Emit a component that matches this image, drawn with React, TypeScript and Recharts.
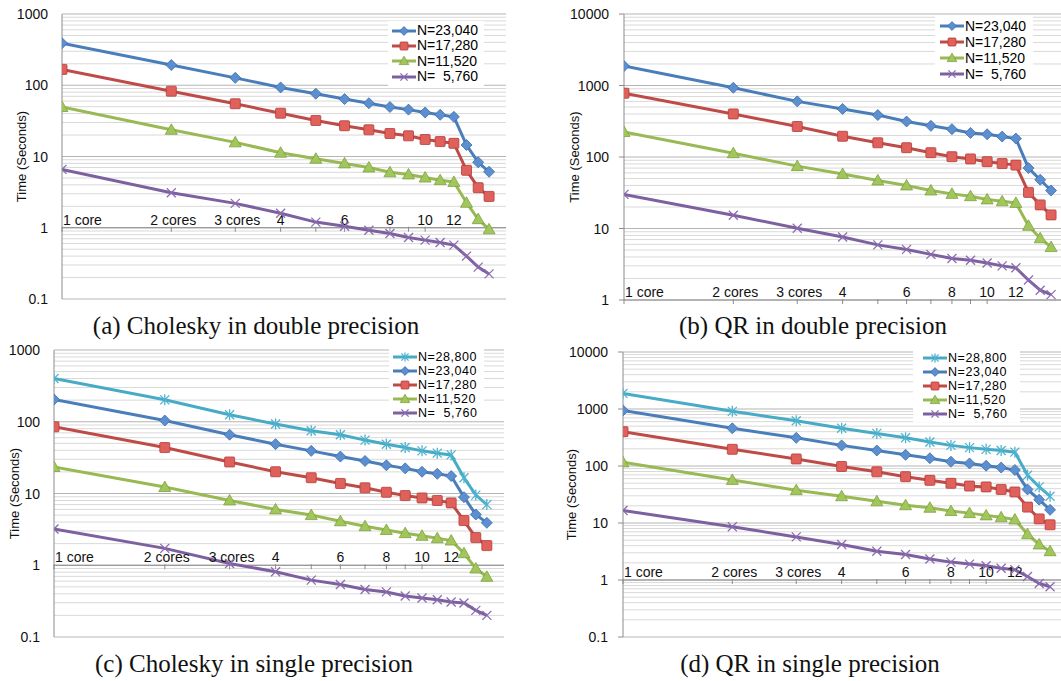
import React from "react";
import {
  CartesianGrid,
  Legend,
  Line,
  LineChart,
  ReferenceDot,
  ReferenceLine,
  XAxis,
  YAxis,
} from "recharts";

const cores = [1, 2, 3, 4, 5, 6, 7, 8, 9, 10, 11, 12, 13, 14, 15];

// tick marks sit on the 1-second line; the core labels are placed over it
const coreTicks = [1, 2, 3, 4, 5, 6, 7, 8, 9, 10];
const coreLabelAt = [1, 2, 3, 4, 6, 8, 10, 12];
const coreLabelText = ["1 core", "2 cores", "3 cores", "4", "6", "8", "10", "12"];

// (a) Cholesky, double precision
const cholD23040 = [390, 192, 127, 93, 76, 64, 56, 49.5, 45.5, 41.5, 38.5, 36, 14.5, 8.3, 6.1];
const cholD17280 = [167, 82.5, 55, 40.5, 32, 27, 23.7, 21, 19.5, 17.3, 16.2, 15.3, 6.4, 3.65, 2.75];
const cholD11520 = [49.5, 23.7, 15.8, 11.3, 9.3, 8.0, 7.0, 6.0, 5.6, 5.07, 4.65, 4.4, 2.24, 1.32, 0.95];
const cholD5760 = [6.6, 3.1, 2.2, 1.6, 1.2, 1.05, 0.92, 0.83, 0.73, 0.67, 0.62, 0.57, 0.4, 0.28, 0.225];

// (b) QR, double precision
const qrD23040 = [1870, 930, 600, 470, 386, 314, 273, 245, 217, 208, 193, 181, 70, 48, 34];
const qrD17280 = [780, 400, 267, 195, 158, 135, 115, 101, 94, 86, 81, 77, 32, 21.4, 15.5];
const qrD11520 = [224, 113, 74.5, 58, 47, 40, 34, 30.5, 28.3, 25.5, 24, 22.8, 10.9, 7.3, 5.5];
const qrD5760 = [30, 15.3, 10.1, 7.6, 5.9, 5.1, 4.35, 3.8, 3.6, 3.3, 3.0, 2.82, 1.9, 1.37, 1.19];

// (c) Cholesky, single precision
const cholS28800 = [400, 202, 125, 93, 75, 66, 55.5, 48.7, 43.7, 39.3, 36.5, 34.5, 16.6, 9.5, 7.0];
const cholS23040 = [204, 104, 66, 48.7, 39.3, 32.7, 28.4, 24.7, 22.4, 20.1, 18.8, 17.5, 8.9, 5.1, 3.9];
const cholS17280 = [85, 43.7, 27.5, 20.1, 16.6, 13.8, 12, 10.4, 9.35, 8.67, 8.0, 7.4, 4.2, 2.43, 1.88];
const cholS11520 = [23.4, 12.3, 8.0, 6.0, 5.0, 4.1, 3.5, 3.1, 2.8, 2.57, 2.38, 2.21, 1.47, 0.9, 0.69];
const cholS5760 = [3.2, 1.72, 1.06, 0.81, 0.62, 0.54, 0.46, 0.425, 0.373, 0.35, 0.331, 0.307, 0.297, 0.235, 0.2];

// (d) QR, single precision
const qrS28800 = [1880, 910, 620, 458, 373, 312, 264, 230, 210, 196, 187, 175, 69, 43, 29.5];
const qrS23040 = [945, 458, 312, 230, 187, 157, 137, 119, 111, 101, 94, 85, 38.8, 25.7, 17];
const qrS17280 = [400, 196, 133, 98, 79, 65, 56, 49.7, 44.5, 43, 38.8, 35, 19, 11.8, 9.3];
const qrS11520 = [116, 57, 37.7, 29.5, 24, 20.5, 18.5, 16.2, 14.9, 13.6, 12.6, 11.5, 6.35, 4.2, 3.2];
const qrS5760 = [16.6, 8.6, 5.7, 4.2, 3.2, 2.8, 2.34, 2.06, 1.9, 1.78, 1.61, 1.51, 1.15, 0.87, 0.76];

const SANS = '"Liberation Sans", Arial, Helvetica, sans-serif';
const SERIF = '"Liberation Serif", "Times New Roman", serif';

type MarkerKind = "star" | "diamond" | "square" | "triangle" | "cross";

const sizeStyle: Record<string, { label: string; color: string; marker: MarkerKind }> = {
  n28800: { label: "N=28,800", color: "#47abc6", marker: "star" },
  n23040: { label: "N=23,040", color: "#4a7ebb", marker: "diamond" },
  n17280: { label: "N=17,280", color: "#be4b48", marker: "square" },
  n11520: { label: "N=11,520", color: "#98b954", marker: "triangle" },
  n5760: { label: "N=  5,760", color: "#7d60a0", marker: "cross" },
};

function Marker({ kind, cx, cy, k = 1 }: { kind: MarkerKind; cx?: number; cy?: number; k?: number }) {
  if (cx == null || cy == null || isNaN(cx) || isNaN(cy)) return null;
  if (kind === "diamond") {
    const r = 5.5 * k;
    return (
      <polygon
        points={`${cx},${cy - r} ${cx + r},${cy} ${cx},${cy + r} ${cx - r},${cy}`}
        fill="#5b8fd0"
        stroke="#3d6ca8"
        strokeWidth={0.8}
      />
    );
  }
  if (kind === "square") {
    const r = 5 * k;
    return (
      <rect x={cx - r} y={cy - r} width={2 * r} height={2 * r} rx={1}
        fill="#e0605b" stroke="#b23d39" strokeWidth={0.8} />
    );
  }
  if (kind === "triangle") {
    const r = 6 * k;
    return (
      <polygon
        points={`${cx},${cy - r} ${cx + r},${cy + 0.75 * r} ${cx - r},${cy + 0.75 * r}`}
        fill="#a0c65c"
        stroke="#7fa23f"
        strokeWidth={0.8}
      />
    );
  }
  const r = 4.5 * k;
  const color = kind === "star" ? "#4fb3cf" : "#8a6cb0";
  return (
    <g stroke={color} strokeWidth={1.3}>
      <line x1={cx - r} y1={cy - r} x2={cx + r} y2={cy + r} />
      <line x1={cx - r} y1={cy + r} x2={cx + r} y2={cy - r} />
      {kind === "star" && <line x1={cx} y1={cy - r - 1} x2={cx} y2={cy + r + 1} />}
    </g>
  );
}

type LegendCfg = {
  left: number; top: number; rowH: number; padL: number; padR: number; padV: number;
  font: number; spacing: number;
};

function LegendBox({ keys, cfg }: { keys: string[]; cfg: LegendCfg }) {
  return (
    <div style={{
      background: "#fff", padding: `${cfg.padV}px ${cfg.padR}px ${cfg.padV}px ${cfg.padL}px`,
      fontFamily: SANS, fontSize: cfg.font, letterSpacing: cfg.spacing, color: "#000",
    }}>
      {keys.map((key) => {
        const s = sizeStyle[key];
        return (
          <div key={key} style={{ display: "flex", alignItems: "center", height: cfg.rowH, whiteSpace: "pre" }}>
            <svg width={24} height={12} style={{ display: "block", marginRight: 1 }}>
              <line x1={0} x2={24} y1={6} y2={6} stroke={s.color} strokeWidth={3} />
              <Marker kind={s.marker} cx={12} cy={6} k={0.8} />
            </svg>
            <span style={{ lineHeight: `${cfg.rowH}px` }}>{s.label}</span>
          </div>
        );
      })}
    </div>
  );
}

type Panel = {
  id: string;
  caption: string;
  left: number;
  top: number;
  width: number;
  height: number;
  axisW: number;
  yDomain: [number, number];
  yTicks: number[];
  tickSize: number;
  tickGap: number;
  titleX: number;
  legend: LegendCfg;
  captionX: number;
  captionY: number;
  series: Record<string, number[]>;
};

const panels: Panel[] = [
  {
    id: "a",
    caption: "(a) Cholesky in double precision",
    left: 0, top: 4, width: 506, height: 305, axisW: 62,
    yDomain: [0.1, 1000], yTicks: [0.1, 1, 10, 100, 1000],
    tickSize: 0, tickGap: 14, titleX: 21,
    legend: { left: 388, top: 17, rowH: 15.4, padL: 4, padR: 6, padV: 2, font: 14, spacing: 0 },
    captionX: 256, captionY: 335,
    series: { n23040: cholD23040, n17280: cholD17280, n11520: cholD11520, n5760: cholD5760 },
  },
  {
    id: "b",
    caption: "(b) QR in double precision",
    left: 562, top: 4, width: 506, height: 306, axisW: 62,
    yDomain: [1, 10000], yTicks: [1, 10, 100, 1000, 10000],
    tickSize: 5, tickGap: 10, titleX: 12,
    legend: { left: 373, top: 11, rowH: 16.1, padL: 5, padR: 7, padV: 3, font: 14, spacing: 0 },
    captionX: 813, captionY: 335,
    series: { n23040: qrD23040, n17280: qrD17280, n11520: qrD11520, n5760: qrD5760 },
  },
  {
    id: "c",
    caption: "(c) Cholesky in single precision",
    left: 0, top: 340, width: 504, height: 307, axisW: 54,
    yDomain: [0.1, 1000], yTicks: [0.1, 1, 10, 100, 1000],
    tickSize: 0, tickGap: 14, titleX: 14,
    legend: { left: 389, top: 9, rowH: 14, padL: 4, padR: 6, padV: 1, font: 12.5, spacing: 0.55 },
    captionX: 254, captionY: 673,
    series: { n28800: cholS28800, n23040: cholS23040, n17280: cholS17280, n11520: cholS11520, n5760: cholS5760 },
  },
  {
    id: "d",
    caption: "(d) QR in single precision",
    left: 561, top: 342, width: 506, height: 305, axisW: 62,
    yDomain: [0.1, 10000], yTicks: [0.1, 1, 10, 100, 1000, 10000],
    tickSize: 5, tickGap: 10, titleX: 10.5,
    legend: { left: 352, top: 8, rowH: 14, padL: 10, padR: 12, padV: 1, font: 12.5, spacing: 0.55 },
    captionX: 810, captionY: 673,
    series: { n28800: qrS28800, n23040: qrS23040, n17280: qrS17280, n11520: qrS11520, n5760: qrS5760 },
  },
];

function gridValues(lo: number, hi: number) {
  const minor: number[] = [];
  const major: number[] = [];
  for (let d = lo; d < hi * 0.99; d *= 10) {
    major.push(d);
    for (let m = 2; m <= 9; m++) minor.push(+(d * m).toPrecision(3));
  }
  major.push(hi);
  return { minor, major };
}

function ChartPanel({ p }: { p: Panel }) {
  const keys = Object.keys(p.series);
  const rows = cores.map((c, i) => {
    const row: Record<string, number> = { cores: c };
    keys.forEach((k) => (row[k] = p.series[k][i]));
    return row;
  });
  const { minor, major } = gridValues(p.yDomain[0], p.yDomain[1]);

  return (
    <div style={{ position: "absolute", left: p.left, top: p.top }}>
      <LineChart width={p.width} height={p.height} data={rows}
        margin={{ top: 10, right: 0, bottom: 10, left: 0 }}>
        <CartesianGrid vertical={false} horizontalValues={minor} stroke="#d9d9d9" />
        <CartesianGrid vertical={false} horizontalValues={major} stroke="#b5b5b5" />
        <XAxis type="number" dataKey="cores" scale="log" domain={[1, 16.7]} hide allowDataOverflow />
        <YAxis
          type="number"
          scale="log"
          domain={p.yDomain}
          ticks={p.yTicks}
          interval={0}
          allowDataOverflow
          width={p.axisW}
          tickSize={p.tickSize}
          tickMargin={p.tickGap}
          axisLine={{ stroke: "#8c8c8c" }}
          tickLine={p.tickSize > 0 ? { stroke: "#8c8c8c" } : false}
          tick={(t: any) => (
            <text x={t.x} y={t.y} textAnchor="end" dominantBaseline="central"
              fontFamily={SANS} fontSize={14} fill="#111">
              {String(t.payload.value)}
            </text>
          )}
          label={{
            content: (l: any) => {
              const vb = l.viewBox || {};
              const cy = vb.y + vb.height / 2;
              const cx = vb.x + p.titleX;
              return (
                <text x={cx} y={cy} transform={`rotate(-90 ${cx} ${cy})`} textAnchor="middle"
                  dominantBaseline="central" fontFamily={SANS} fontSize={13} fill="#111">
                  Time (Seconds)
                </text>
              );
            },
          }}
        />
        <ReferenceLine y={1} stroke="#8c8c8c" />
        {coreTicks.map((v) => (
          <ReferenceDot key={`t${v}`} x={v} y={1} r={0}
            shape={(s: any) => (
              <line x1={s.cx} x2={s.cx} y1={s.cy - 1} y2={s.cy + 4} stroke="#8c8c8c" />
            )} />
        ))}
        {coreLabelAt.map((v, i) => (
          <ReferenceDot key={`l${v}`} x={v} y={1} r={0}
            shape={(s: any) => (
              <text x={i === 0 ? s.cx + 1 : s.cx + (i < 3 ? 2 : 0)} y={s.cy - 3}
                textAnchor={i === 0 ? "start" : "middle"}
                fontFamily={SANS} fontSize={14} fill="#111">
                {coreLabelText[i]}
              </text>
            )} />
        ))}
        {keys.map((k) => (
          <Line
            key={k}
            type="linear"
            dataKey={k}
            stroke={sizeStyle[k].color}
            strokeWidth={3}
            isAnimationActive={false}
            activeDot={false}
            dot={(d: any) => <Marker key={`${k}-${d.index}`} kind={sizeStyle[k].marker} cx={d.cx} cy={d.cy} />}
          />
        ))}
        <Legend
          layout="vertical"
          align="center"
          verticalAlign="middle"
          wrapperStyle={{ left: p.legend.left, top: p.legend.top, width: "auto" }}
          content={() => <LegendBox keys={keys} cfg={p.legend} />}
        />
      </LineChart>
    </div>
  );
}

export default function App() {
  return (
    <div style={{ position: "absolute", left: 0, top: 0, width: 1061, height: 681, overflow: "hidden", background: "#fff" }}>
      {panels.map((p) => (
        <ChartPanel key={p.id} p={p} />
      ))}
      {panels.map((p) => (
        <div key={`cap-${p.id}`} style={{
          position: "absolute", left: p.captionX, top: p.captionY - 22, transform: "translateX(-50%)",
          fontFamily: SERIF, fontSize: 25, lineHeight: 1, whiteSpace: "nowrap", color: "#111",
        }}>
          {p.caption}
        </div>
      ))}
    </div>
  );
}
